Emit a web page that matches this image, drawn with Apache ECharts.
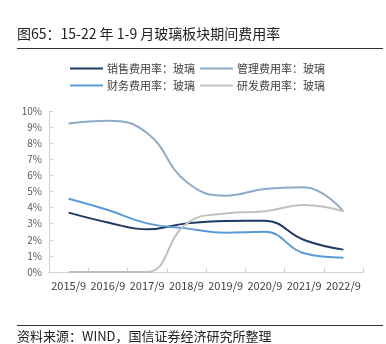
<!DOCTYPE html>
<html><head><meta charset="utf-8">
<script src="https://cdn.jsdelivr.net/npm/echarts@6/dist/echarts.min.js"></script>
<style>html,body{margin:0;padding:0;background:#fff}#c{width:386px;height:344px}</style>
</head><body><div id="c"></div>
<script>
var categories = ['2015/9','2016/9','2017/9','2018/9','2019/9','2020/9','2021/9','2022/9'];
var yTicks = [0,1,2,3,4,5,6,7,8,9,10];
var sales = [3.69, 3.08, 2.65, 3.02, 3.17, 3.18, 1.99, 1.39];
var mgmt = [9.23, 9.40, 8.63, 5.60, 4.74, 5.15, 5.26, 3.77];
var finance = [4.55, 3.85, 3.02, 2.71, 2.44, 2.50, 1.16, 0.89];
var rnd = [0.0, 0.0, 0.0, 3.00, 3.64, 3.77, 4.16, 3.77];
var names = ['销售费用率：玻璃','管理费用率：玻璃','财务费用率：玻璃','研发费用率：玻璃'];
var colors = ['#1f3864','#8eaac4','#5b9bd5','#c0c0c0'];
var title = '图65：15-22 年 1-9 月玻璃板块期间费用率';
var source = '资料来源：WIND，国信证券经济研究所整理';

var ff = '"Noto Sans CJK SC", "Noto Sans", sans-serif';
var chart = echarts.init(document.getElementById('c'), null, {renderer:'canvas'});
function mk(name, data, color){
  return {name:name, type:'line', data:data, smooth:0.45, smoothConstraint:false, symbol:'none',
    lineStyle:{color:color, width:2}, itemStyle:{color:color}};
}
var legendCommon = {icon:'rect', itemWidth:33, itemHeight:2, itemGap:5, padding:0, textStyle:{fontSize:11, color:'#404040', fontFamily:ff, padding:[0,0,0,-1]}};
chart.setOption({
  animation:false,
  textStyle:{fontFamily:ff},
  title:{text:title, left:12, top:22, textStyle:{fontSize:14, fontWeight:'normal', color:'#222', fontFamily:ff}},
  graphic:[
    {type:'line', shape:{x1:17,y1:48.5,x2:383,y2:48.5}, style:{stroke:'#333', lineWidth:1}},
    {type:'line', shape:{x1:17,y1:325.5,x2:383,y2:325.5}, style:{stroke:'#333', lineWidth:1}},
    {type:'text', left:17, top:330, style:{text:source, fontSize:13, fill:'#222', fontFamily:ff}}
  ],
  legend:[
    Object.assign({data:[names[0],names[1]], left:70, top:63}, legendCommon),
    Object.assign({data:[names[2],names[3]], left:70, top:80}, legendCommon)
  ],
  grid:{left:49, right:23, top:111, bottom:72, containLabel:false},
  xAxis:{type:'category', data:categories, boundaryGap:true,
    axisLine:{lineStyle:{color:'#d0d0d0', width:1}},
    axisTick:{show:true, inside:true, length:4, lineStyle:{color:'#d0d0d0'}},
    axisLabel:{fontSize:11, color:'#404040', margin:8, interval:0}},
  yAxis:{type:'value', min:yTicks[0], max:yTicks[yTicks.length-1], interval:1,
    axisLine:{show:true, lineStyle:{color:'#d0d0d0'}},
    axisTick:{show:true, inside:true, length:4, lineStyle:{color:'#d0d0d0'}},
    splitLine:{show:false},
    axisLabel:{fontSize:10, color:'#595959', margin:7, formatter:function(v){return v+'%';}}},
  series:[mk(names[0],sales,colors[0]), mk(names[1],mgmt,colors[1]), mk(names[2],finance,colors[2]), mk(names[3],rnd,colors[3])]
});
</script></body></html>
